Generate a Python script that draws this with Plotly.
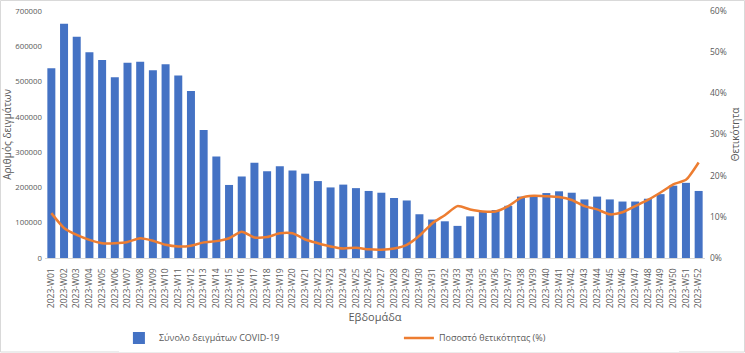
import plotly.graph_objects as go

weeks = [f"2023-W{i:02d}" for i in range(1, 53)]
samples = [538000, 664000, 627000, 583000, 561000, 512000, 553000, 556000, 532000, 549000,
           517000, 473000, 363000, 288000, 207000, 231000, 270000, 246000, 260000, 248000,
           239000, 218000, 200000, 208000, 198000, 190000, 185000, 170000, 163000, 124000,
           109000, 104000, 91000, 118000, 131000, 136000, 148000, 174000, 175000, 184000,
           189000, 185000, 166000, 174000, 166000, 160000, 160000, 168000, 181000, 205000,
           213000, 190000]
positivity = [10.9, 7.3, 5.6, 4.4, 3.6, 3.6, 3.9, 4.8, 4.2, 3.2,
              2.8, 3.0, 3.8, 4.1, 4.8, 6.4, 5.0, 5.1, 6.0, 6.0,
              4.5, 3.6, 2.8, 2.3, 2.5, 2.1, 2.0, 2.3, 3.2, 5.4,
              8.4, 10.4, 12.6, 11.8, 11.3, 11.3, 12.6, 14.6, 15.1, 15.0,
              14.8, 14.1, 12.6, 11.8, 10.6, 11.1, 12.6, 14.1, 15.9, 17.9,
              19.0, 23.2]

FONT = "Open Sans"
GREY = "#595959"

fig = go.Figure()
fig.add_trace(go.Bar(x=weeks, y=samples, name="Σύνολο δειγμάτων COVID-19",
                     marker=dict(color="#4472C4", line=dict(width=0)), yaxis="y"))
fig.add_trace(go.Scatter(x=weeks, y=[p / 100 for p in positivity], name="Ποσοστό θετικότητας (%)",
                         mode="lines", line=dict(color="#ED7D31", width=2.5, shape="spline", smoothing=0.6),
                         yaxis="y2"))

fig.update_layout(
    width=745, height=353,
    margin=dict(l=45, r=40, t=11, b=95, autoexpand=False),
    paper_bgcolor="white", plot_bgcolor="white",
    font=dict(family=FONT, size=9, color=GREY),
    bargap=0.37,
    showlegend=True,
    legend=dict(orientation="h", x=0.112, y=-0.265, xanchor="left", yanchor="top",
                entrywidth=235, font=dict(size=9, color=GREY)),
    xaxis=dict(tickangle=-90, showgrid=False, showline=True, linecolor="#D9D9D9",
               tickfont=dict(size=8.5, color=GREY), ticks="", ticklabelstandoff=6,
               automargin=False,
               title=dict(text="Εβδομάδα", font=dict(size=11, color=GREY), standoff=6)),
    yaxis=dict(range=[0, 700000], dtick=100000, showgrid=False, zeroline=False,
               tickformat="d", tickfont=dict(size=7.8, color=GREY), automargin=False,
               ticklabelstandoff=2,
               title=dict(text="Αριθμός δειγμάτων", font=dict(size=10, color=GREY), standoff=6)),
    yaxis2=dict(range=[0, 0.6], dtick=0.1, tickformat=".0%", overlaying="y", side="right",
                showgrid=False, zeroline=False, tickfont=dict(size=8.5, color=GREY),
                automargin=False, ticklabelstandoff=4,
                title=dict(text="Θετικότητα", font=dict(size=10, color=GREY), standoff=6)),
    shapes=[dict(type="rect", xref="paper", yref="paper",
                 x0=-44.5 / 660, x1=1 + 39.5 / 660, y0=-94 / 247, y1=1 + 10.5 / 247,
                 line=dict(color="#D9D9D9", width=1))],
)

fig.write_html("out.html")
